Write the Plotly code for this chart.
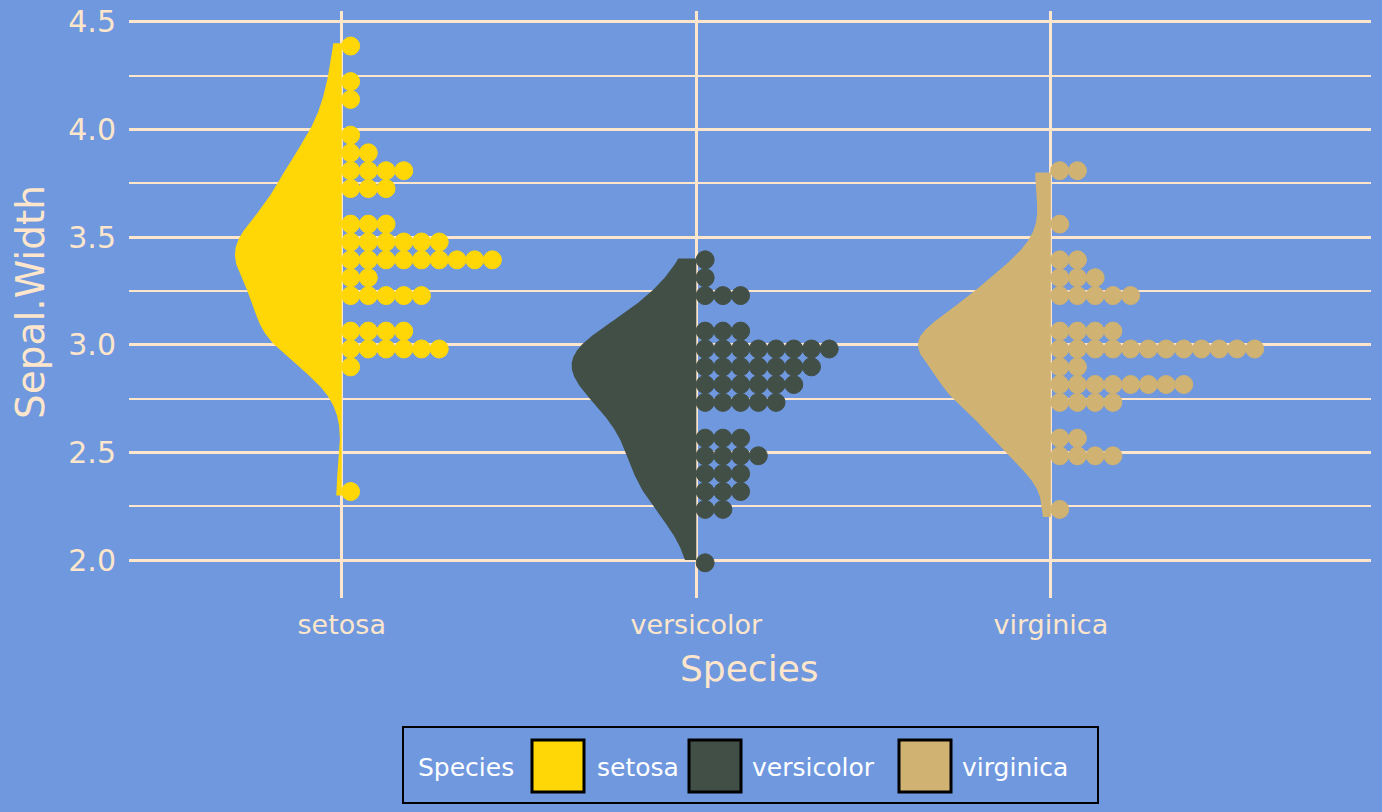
import numpy as np
import plotly.graph_objects as go

# ---------------- data ----------------
species = ["setosa", "versicolor", "virginica"]
colors = ["#FFD707", "#424F46", "#D0B272"]

setosa_values = [2.3, 2.9, 3.0, 3.1, 3.2, 3.3, 3.4, 3.5, 3.6, 3.7, 3.8, 3.9, 4.0, 4.1, 4.2, 4.4]
setosa_counts = [1, 1, 6, 4, 5, 2, 9, 6, 3, 3, 4, 2, 1, 1, 1, 1]
setosa_dot_y = [2.318, 2.897, 2.980, 3.063, 3.228, 3.311, 3.394, 3.477, 3.560,
                3.725, 3.808, 3.891, 3.973, 4.139, 4.222, 4.387]

versicolor_values = [2.0, 2.2, 2.3, 2.4, 2.5, 2.6, 2.7, 2.8, 2.9, 3.0, 3.1, 3.2, 3.3, 3.4]
versicolor_counts = [1, 2, 3, 3, 4, 3, 5, 6, 7, 8, 3, 3, 1, 1]
versicolor_dot_y = [1.987, 2.235, 2.318, 2.401, 2.484, 2.566, 2.732, 2.815, 2.897,
                    2.980, 3.063, 3.228, 3.311, 3.394]

virginica_values = [2.2, 2.5, 2.6, 2.7, 2.8, 2.9, 3.0, 3.1, 3.2, 3.3, 3.4, 3.6, 3.8]
virginica_counts = [1, 4, 2, 4, 8, 2, 12, 4, 5, 3, 2, 1, 2]
virginica_dot_y = [2.235, 2.484, 2.566, 2.732, 2.815, 2.897, 2.980, 3.063, 3.228,
                   3.311, 3.394, 3.560, 3.808]

y_tick_vals = [2.0, 2.5, 3.0, 3.5, 4.0, 4.5]
y_tick_text = ["2.0", "2.5", "3.0", "3.5", "4.0", "4.5"]

# ---------------- style ----------------
BG = "#6F98DF"
GRID = "#FDE6CB"
TXT = "#FDE6CB"
FONT = "DejaVu Sans"
W, H = 1382, 812
L, R, T, B = 129, 11, 11, 214
HALF_WIDTH = 0.375      # max half-violin width (data units)
DOT_STEP = 0.05         # horizontal stacking step of dots (data units)

values_list = [setosa_values, versicolor_values, virginica_values]
counts_list = [setosa_counts, versicolor_counts, virginica_counts]
doty_list = [setosa_dot_y, versicolor_dot_y, virginica_dot_y]


def nrd0(x):
    sd = np.std(x, ddof=1)
    iqr = np.subtract(*np.percentile(x, [75, 25]))
    lo = min(sd, iqr / 1.34)
    return 0.9 * lo * len(x) ** -0.2


def kde(x, grid, bw):
    z = (grid[:, None] - x[None, :]) / bw
    return np.exp(-0.5 * z ** 2).sum(axis=1) / (len(x) * bw * np.sqrt(2 * np.pi))


dens = []
for vals, cnts in zip(values_list, counts_list):
    raw = np.repeat(np.array(vals, float), cnts)
    grid = np.linspace(raw.min(), raw.max(), 512)
    dens.append((grid, kde(raw, grid, nrd0(raw))))
dmax = max(d.max() for _, d in dens)

fig = go.Figure()

for i, (sp, col) in enumerate(zip(species, colors)):
    cat = i + 1
    grid, d = dens[i]
    xs = np.concatenate([cat - d / dmax * HALF_WIDTH, [cat, cat]])
    ys = np.concatenate([grid, [grid[-1], grid[0]]])
    fig.add_trace(go.Scatter(x=xs, y=ys, mode="lines", fill="toself",
                             fillcolor=col, line=dict(width=0, color=col),
                             hoverinfo="skip", showlegend=False))

for i, (sp, col) in enumerate(zip(species, colors)):
    cat = i + 1
    dx, dy = [], []
    for yv, c in zip(doty_list[i], counts_list[i]):
        for j in range(c):
            dx.append(cat + (j + 0.5) * DOT_STEP)
            dy.append(yv)
    fig.add_trace(go.Scatter(x=dx, y=dy, mode="markers",
                             marker=dict(size=18, color=col, line=dict(width=1, color=col)),
                             name=sp, showlegend=False))

pw, ph = W - L - R, H - T - B


def px(xp):
    return (xp - L) / pw


def py(yp):
    return (H - B - yp) / ph


shapes = []
annotations = []
# legend box
shapes.append(dict(type="rect", xref="paper", yref="paper",
                   x0=px(403), x1=px(1098), y0=py(803), y1=py(727),
                   line=dict(color="black", width=2), fillcolor="rgba(0,0,0,0)"))
key_left = [532, 689, 899]
label_left = [595, 750, 960]
for k in range(3):
    shapes.append(dict(type="rect", xref="paper", yref="paper",
                       x0=px(key_left[k]), x1=px(key_left[k] + 52),
                       y0=py(792), y1=py(740),
                       line=dict(color="black", width=3), fillcolor=colors[k]))
    annotations.append(dict(text=species[k], xref="paper", yref="paper",
                            x=px(label_left[k]), y=py(767), xanchor="left", yanchor="middle",
                            showarrow=False, font=dict(family=FONT, size=25, color="white")))
annotations.append(dict(text="Species", xref="paper", yref="paper",
                        x=px(416), y=py(767), xanchor="left", yanchor="middle",
                        showarrow=False, font=dict(family=FONT, size=25, color="white")))
# axis titles
annotations.append(dict(text="Species", xref="paper", yref="paper",
                        x=px(749), y=py(668), xanchor="center", yanchor="middle",
                        showarrow=False, font=dict(family=FONT, size=36, color=TXT)))
annotations.append(dict(text="Sepal.Width", xref="paper", yref="paper",
                        x=px(30), y=py(302), xanchor="center", yanchor="middle",
                        textangle=-90, showarrow=False,
                        font=dict(family=FONT, size=39, color=TXT)))

fig.update_layout(
    width=W, height=H,
    margin=dict(l=L, r=R, t=T, b=B, pad=0, autoexpand=False),
    paper_bgcolor=BG, plot_bgcolor=BG,
    font=dict(family=FONT, color=TXT),
    showlegend=False,
    shapes=shapes, annotations=annotations,
    xaxis=dict(range=[0.4, 3.903], tickvals=[1, 2, 3], ticktext=species,
               automargin=False,
               showgrid=True, gridcolor=GRID, gridwidth=2.5, zeroline=False,
               showline=False, ticks="", ticklabelstandoff=8,
               tickfont=dict(family=FONT, size=27, color=TXT)),
    yaxis=dict(range=[1.8235, 4.5497], tickvals=y_tick_vals, ticktext=y_tick_text,
               automargin=False,
               showgrid=True, gridcolor=GRID, gridwidth=3, zeroline=False,
               showline=False, ticks="", ticklabelstandoff=12,
               tickfont=dict(family=FONT, size=30, color=TXT),
               minor=dict(dtick=0.25, tick0=2.0, showgrid=True, gridcolor=GRID, gridwidth=1.5)),
)

fig.write_html("out.html", config={"displayModeBar": False},
               post_script="document.body.style.margin='0';document.body.style.overflow='hidden';")
